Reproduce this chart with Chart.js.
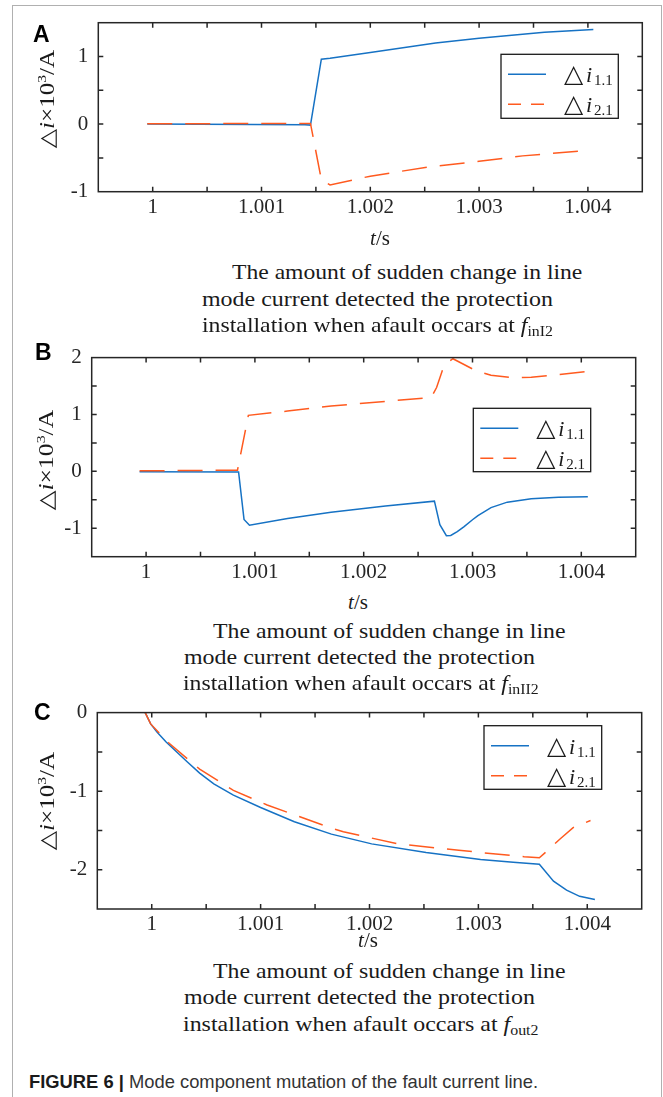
<!DOCTYPE html>
<html>
<head>
<meta charset="utf-8">
<script src="https://cdn.jsdelivr.net/npm/chart.js@4.4.0/dist/chart.umd.min.js"></script>
<style>
  body { margin: 0; width: 663px; height: 1097px; position: relative; overflow: hidden; background: #fff; font-family: "Liberation Serif", "DejaVu Serif", serif; color: #1a1a1a; }
  .frame { position: absolute; left: 12px; top: 5px; width: 648px; height: 1200px; border: 1px solid #b0b0b0; }
  canvas { position: absolute; left: 0; }
  .plabel { position: absolute; font: bold 23px/23px "Liberation Sans", Arial, sans-serif; color: #000; }
  .ytitle { position: absolute; font-size: 21px; line-height: 21px; white-space: nowrap; transform: translate(-50%, -50%) rotate(-90deg); }
  .xtitle { position: absolute; font-size: 21px; line-height: 21px; white-space: nowrap; transform: translate(-50%, -50%); }
  .cap { position: absolute; font-size: 21px; line-height: 21px; white-space: nowrap; transform-origin: 0 0; }
  .sup { font-size: 13px; position: relative; top: -8px; }
  .sub { font-size: 14px; position: relative; top: 4px; }
  .figcap { position: absolute; left: 29px; top: 1073px; font: 18.5px/18px "Liberation Sans", Arial, sans-serif; color: #333; white-space: nowrap; transform-origin: 0 0; }
  .figcap b { color: #1a1a1a; }
</style>
</head>
<body>
<div class="frame"></div>

<canvas id="chartA" width="663" height="232" style="top:0px;width:663px;height:232px"></canvas>
<canvas id="chartB" width="663" height="253" style="top:335px;width:663px;height:253px"></canvas>
<canvas id="chartC" width="663" height="245" style="top:690px;width:663px;height:245px"></canvas>

<div class="plabel" style="left:33px;top:23px">A</div>
<div class="plabel" style="left:35px;top:341px">B</div>
<div class="plabel" style="left:34px;top:701px">C</div>

<div class="ytitle" data-len="98" style="left:48px;top:99px">△<i>i</i>×10<span class="sup">3</span>/A</div>
<div class="ytitle" data-len="100" style="left:47px;top:460px">△<i>i</i>×10<span class="sup">3</span>/A</div>
<div class="ytitle" data-len="98" style="left:48px;top:801px">△<i>i</i>×10<span class="sup">3</span>/A</div>

<div class="xtitle" style="left:380px;top:238px"><i>t</i>/s</div>
<div class="xtitle" style="left:358px;top:602px"><i>t</i>/s</div>
<div class="xtitle" style="left:368px;top:940px"><i>t</i>/s</div>

<div class="cap" data-w="350" style="left:232px;top:262px">The amount of sudden change in line</div>
<div class="cap" data-w="351" style="left:202px;top:289px">mode current detected the protection</div>
<div class="cap" data-w="351" style="left:202px;top:315px">installation when afault occars at <i>f</i><span class="sub">inI2</span></div>

<div class="cap" data-w="352" style="left:213px;top:621px">The amount of sudden change in line</div>
<div class="cap" data-w="351" style="left:184px;top:647px">mode current detected the protection</div>
<div class="cap" data-w="356" style="left:183px;top:673px">installation when afault occars at <i>f</i><span class="sub">inII2</span></div>

<div class="cap" data-w="352" style="left:213px;top:961px">The amount of sudden change in line</div>
<div class="cap" data-w="351" style="left:184px;top:987px">mode current detected the protection</div>
<div class="cap" data-w="355" style="left:183px;top:1014px">installation when afault occars at <i>f</i><span class="sub">out2</span></div>

<div class="figcap" data-w="509"><b>FIGURE 6 |</b> Mode component mutation of the fault current line.</div>

<script>
// shared time axis
const xTicks = [0.9995, 1, 1.0005, 1.001, 1.0015, 1.002, 1.0025, 1.003, 1.0035, 1.004, 1.0045];
const xTickLabels = ['', '1', '', '1.001', '', '1.002', '', '1.003', '', '1.004', ''];

// panel A
const aTime11 = [0.99995, 1.0014, 1.00145, 1.00155, 1.00163, 1.002, 1.0026, 1.003, 1.0034, 1.0036, 1.00405];
const aI11 = [0, -0.01, -0.015, 0.96, 0.975, 1.06, 1.20, 1.27, 1.33, 1.36, 1.40];
const aTime21 = [0.99995, 1.00145, 1.00155, 1.00163, 1.002, 1.00255, 1.003, 1.0034, 1.004];
const aI21 = [0.005, 0.01, -0.82, -0.9, -0.77, -0.63, -0.55, -0.47, -0.39];
const aYTicks = [-1, -0.5, 0, 0.5, 1, 1.5];
const aYLabels = ['-1', '', '0', '', '1', ''];

// panel B
const bTime11 = [0.99994, 1.00085, 1.0009, 1.00095, 1.0013, 1.0017, 1.0022, 1.00265, 1.0027, 1.00276, 1.0028,
  1.00286, 1.00292, 1.003, 1.00305, 1.00317, 1.00332, 1.00354, 1.00379, 1.00406];
const bI11 = [-0.005, -0.01, -0.845, -0.946, -0.83, -0.72, -0.61, -0.524, -0.936, -1.13, -1.127,
  -1.06, -0.975, -0.85, -0.777, -0.637, -0.541, -0.48, -0.457, -0.446];
const bTime21 = [0.99994, 1.00084, 1.00094, 1.0013, 1.0017, 1.0022, 1.00262, 1.00267, 1.00274, 1.00282,
  1.0029, 1.00303, 1.00317, 1.00338, 1.00354, 1.00379, 1.00406];
const bI21 = [0.01, 0.02, 0.985, 1.06, 1.15, 1.23, 1.30, 1.474, 1.868, 1.98,
  1.90, 1.77, 1.69, 1.643, 1.655, 1.70, 1.757];
const bYTicks = [-1.5, -1, -0.5, 0, 0.5, 1, 1.5, 2];
const bYLabels = ['', '-1', '', '0', '', '1', '', '2'];

// panel C
const cTime11 = [0.99994, 0.99999, 1.00005, 1.00013, 1.00032, 1.00044, 1.00057, 1.00075, 1.001, 1.00131,
  1.00165, 1.00202, 1.00252, 1.00302, 1.00332, 1.00356, 1.00369, 1.00381, 1.00393, 1.00407];
const cI11 = [0, -0.144, -0.25, -0.371, -0.619, -0.77, -0.907, -1.05, -1.208, -1.39,
  -1.547, -1.671, -1.782, -1.869, -1.906, -1.931, -2.145, -2.26, -2.339, -2.38];
const cTime21 = [0.99994, 0.99999, 1.00016, 1.00044, 1.00075, 1.00106, 1.00165, 1.00176, 1.00226, 1.00282,
  1.00342, 1.00356, 1.00362, 1.00375, 1.00387, 1.00403];
const cI21 = [0, -0.144, -0.391, -0.72, -0.99, -1.176, -1.47, -1.517, -1.671, -1.753,
  -1.835, -1.848, -1.774, -1.609, -1.464, -1.374];
const cYTicks = [-2.5, -2, -1.5, -1, -0.5, 0];
const cYLabels = ['', '-2', '', '-1', '', '0'];

const BLUE = '#1672c4';
const ORANGE = '#ff5a1f';
const INK = '#262626';

const boxPlugin = {
  id: 'boxPlugin',
  afterDraw(chart, args, opts) {
    const { ctx, chartArea: a, scales: { x, y } } = chart;
    ctx.save();
    ctx.strokeStyle = INK;
    ctx.lineWidth = 1.5;
    ctx.strokeRect(a.left, a.top, a.right - a.left, a.bottom - a.top);
    // inward ticks on all four sides
    ctx.beginPath();
    x.ticks.forEach(t => {
      const px = x.getPixelForValue(t.value);
      if (px < a.left + 2 || px > a.right - 2) return;
      ctx.moveTo(px, a.bottom); ctx.lineTo(px, a.bottom - 5);
      ctx.moveTo(px, a.top); ctx.lineTo(px, a.top + 5);
    });
    y.ticks.forEach(t => {
      const py = y.getPixelForValue(t.value);
      if (py < a.top + 2 || py > a.bottom - 2) return;
      ctx.moveTo(a.left, py); ctx.lineTo(a.left + 5, py);
      ctx.moveTo(a.right, py); ctx.lineTo(a.right - 5, py);
    });
    ctx.stroke();

    // legend box
    const L = opts.legend;
    const bx = L.x, by = L.y - opts.top;
    ctx.fillStyle = '#fff';
    ctx.fillRect(bx, by, L.w, L.h);
    ctx.lineWidth = 1.3;
    ctx.strokeStyle = '#1a1a1a';
    ctx.strokeRect(bx, by, L.w, L.h);
    const rows = [
      { color: BLUE, dash: [], sub: '1.1', yy: by + 20 },
      { color: ORANGE, dash: [13, 10], sub: '2.1', yy: by + 50 }
    ];
    rows.forEach(r => {
      ctx.beginPath();
      ctx.setLineDash(r.dash);
      ctx.strokeStyle = r.color;
      ctx.lineWidth = 1.5;
      ctx.moveTo(bx + 7, r.yy);
      ctx.lineTo(bx + 45, r.yy);
      ctx.stroke();
      ctx.setLineDash([]);
      ctx.fillStyle = '#1a1a1a';
      ctx.textBaseline = 'alphabetic';
      ctx.textAlign = 'left';
      ctx.font = '25px "DejaVu Sans"';
      ctx.fillText('△', bx + 63, r.yy + 8);
      ctx.font = 'italic 22px "Liberation Serif"';
      ctx.fillText('i', bx + 85, r.yy + 8);
      ctx.font = '15px "Liberation Serif"';
      ctx.fillText(r.sub, bx + 93, r.yy + 11);
    });
    ctx.restore();
  }
};

function makePanel(id, p) {
  const canvasH = document.getElementById(id).height;
  return new Chart(document.getElementById(id), {
    type: 'line',
    data: {
      datasets: [
        {
          label: 'Δi1.1',
          data: p.t1.map((t, i) => ({ x: t, y: p.v1[i] })),
          borderColor: BLUE, borderWidth: 1.5, pointRadius: 0, tension: 0, order: 1
        },
        {
          label: 'Δi2.1',
          data: p.t2.map((t, i) => ({ x: t, y: p.v2[i] })),
          borderColor: ORANGE, borderWidth: 1.5, borderDash: [25, 13], pointRadius: 0, tension: 0, order: 0
        }
      ]
    },
    options: {
      responsive: false,
      animation: false,
      devicePixelRatio: 1,
      layout: { padding: { top: p.area.t - p.top, right: 663 - p.area.r, left: 0, bottom: 0 } },
      plugins: {
        legend: { display: false },
        tooltip: { enabled: false },
        boxPlugin: { legend: p.legend, top: p.top }
      },
      scales: {
        x: {
          type: 'linear', min: 0.9995, max: 1.0045,
          grid: { display: false, drawTicks: false },
          border: { display: false },
          afterBuildTicks: s => { s.ticks = xTicks.map(v => ({ value: v })); },
          afterFit: s => { s.height = p.top + canvasH - p.area.b; },
          ticks: {
            autoSkip: false, maxRotation: 0, padding: 3, color: INK,
            font: { family: 'Liberation Serif', size: 21 },
            callback: (v, i) => xTickLabels[i]
          }
        },
        y: {
          type: 'linear', min: p.yTicks[0], max: p.yTicks[p.yTicks.length - 1],
          grid: { display: false, drawTicks: false },
          border: { display: false },
          afterBuildTicks: s => { s.ticks = p.yTicks.map(v => ({ value: v })); },
          afterFit: s => { s.width = p.area.l; },
          ticks: {
            autoSkip: false, padding: 10, color: INK,
            font: { family: 'Liberation Serif', size: 21 },
            callback: (v, i) => p.yLabels[i]
          }
        }
      }
    },
    plugins: [boxPlugin]
  });
}

makePanel('chartA', {
  t1: aTime11, v1: aI11, t2: aTime21, v2: aI21, yTicks: aYTicks, yLabels: aYLabels,
  top: 0, area: { l: 98.3, t: 22.7, r: 642.3, b: 191.7 },
  legend: { x: 501, y: 54.3, w: 117.3, h: 64 }
});
makePanel('chartB', {
  t1: bTime11, v1: bI11, t2: bTime21, v2: bI21, yTicks: bYTicks, yLabels: bYLabels,
  top: 335, area: { l: 91.7, t: 349, r: 635.7, b: 556.7 },
  legend: { x: 473.3, y: 408.3, w: 117.4, h: 63.4 }
});
makePanel('chartC', {
  t1: cTime11, v1: cI11, t2: cTime21, v2: cI21, yTicks: cYTicks, yLabels: cYLabels,
  top: 690, area: { l: 97.3, t: 706.7, r: 641.7, b: 909 },
  legend: { x: 484, y: 725.7, w: 117.7, h: 63.6 }
});

// stretch text to the widths measured on the figure
document.querySelectorAll('[data-w]').forEach(el => {
  const k = +el.dataset.w / el.offsetWidth;
  el.style.transform = 'scaleX(' + k.toFixed(3) + ')';
});
document.querySelectorAll('[data-len]').forEach(el => {
  const k = +el.dataset.len / el.offsetWidth;
  el.style.transform = 'translate(-50%, -50%) rotate(-90deg) scaleX(' + k.toFixed(3) + ')';
});
</script>
</body>
</html>
